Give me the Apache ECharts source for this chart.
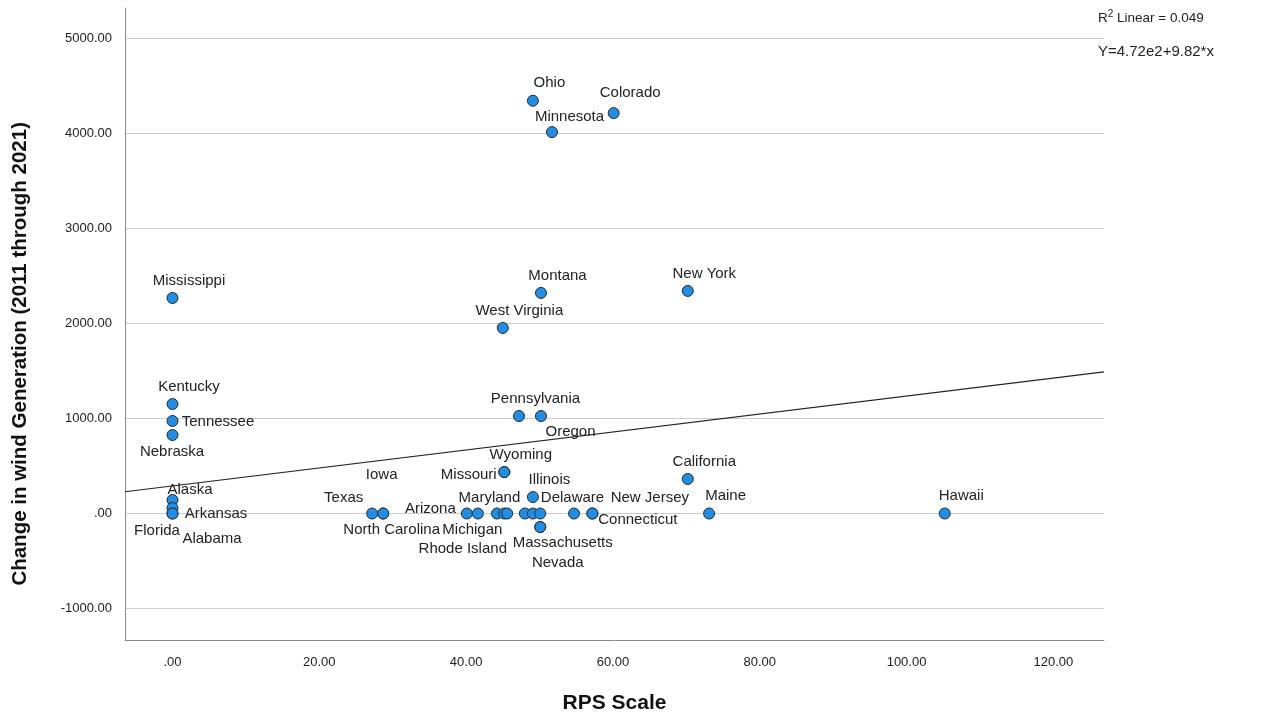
<!DOCTYPE html>
<html>
<head>
<meta charset="utf-8">
<script src="https://cdn.jsdelivr.net/npm/echarts@6/dist/echarts.min.js"></script>
<style>
  html, body { margin: 0; padding: 0; background: #fff; }
  #main { width: 1263px; height: 719px; }
</style>
</head>
<body>
<div id="main"></div>
<script>
// values
const states = [
	"Ohio", "Colorado", "Minnesota", "Mississippi", "Montana", "New York", "West Virginia",
	"Kentucky", "Tennessee", "Nebraska", "Pennsylvania", "Oregon", "Wyoming", "Missouri",
	"California", "Illinois", "Alaska", "Arkansas", "Florida", "Alabama", "Texas",
	"North Carolina", "Iowa", "Arizona", "Michigan", "Maryland", "Rhode Island", "", "", "", "",
	"Delaware", "New Jersey", "Connecticut", "Maine", "Hawaii", "Massachusetts", "Nevada"
]
const rpsScale = [
	49.1, 60.1, 51.7, 0, 50.2, 70.2, 45.0,
	0, 0, 0, 47.2, 50.2, 45.2, 45.2,
	70.2, 49.1, 0, 0, 0, 0, 27.2,
	28.7, 28.7, 40.1, 41.6, 44.2, 45.2, 45.6, 48.0, 49.1, 50.1,
	54.7, 57.2, 57.2, 73.1, 105.2, 50.1, 50.1
]
const windChange = [
	4340, 4210, 4010, 2266, 2319, 2340, 1951,
	1151, 973, 825, 1025, 1025, 436, 436,
	363, 173, 142, 58, 0, 0, 0,
	0, 0, 0, 0, 0, 0, 0, 0, 0, 0,
	0, 0, 0, 0, 0, -142, -142
]
const xTicks = [0, 20, 40, 60, 80, 100, 120]
const yTicks = [-1000, 0, 1000, 2000, 3000, 4000, 5000]
// fitted line as drawn in the picture
const fitIntercept = 290
const fitSlope = 9.45

const xMin = -6.47, xMax = 126.9
const yMin = -1330, yMax = 5315

const symSize = 11
// label placement, px from point centre (SPSS style)
const labelOffsets = {
	"Tennessee": [46, 1], "Nebraska": [0, 17], "Alaska": [18, -10], "Arkansas": [44, 6],
	"Florida": [-15, 18], "Alabama": [40, 26], "Texas": [-28, -15], "Iowa": [-1, -38],
	"North Carolina": [9, 17], "Arizona": [-36, -4], "Michigan": [-5, 17], "Maryland": [-7, -15],
	"Rhode Island": [-41, 36], "Missouri": [-35, 3], "Delaware": [-1, -15], "New Jersey": [58, -15],
	"Connecticut": [46, 7], "Massachusetts": [23, 16], "Nevada": [18, 36], "Oregon": [30, 16],
	"Colorado": [17, -20], "Minnesota": [18, -15]
}

const fmt = (v) => v === 0 ? ".00" : v.toFixed(2)

const points = states.map((name, i) => {
	const off = labelOffsets[name] || [17, -17]
	return {
		name: name,
		value: [rpsScale[i], windChange[i]],
		label: { position: [symSize / 2 + off[0], symSize / 2 + off[1]] }
	}
})

const fitData = [
	[xMin, fitIntercept + fitSlope * xMin],
	[xMax, fitIntercept + fitSlope * xMax]
]

const font = "'Liberation Sans', Arial, sans-serif"

var myChart = echarts.init(document.getElementById('main'))
var option = {
	backgroundColor: '#fff',
	animation: false,
	textStyle: { fontFamily: font },
	grid: { left: 125, right: 159, top: 8, bottom: 79 },
	xAxis: {
		type: 'value',
		min: xMin,
		max: xMax,
		name: 'RPS Scale',
		nameLocation: 'middle',
		nameGap: 53,
		nameTextStyle: { fontSize: 21, fontWeight: 'bold', color: '#111', fontFamily: font },
		axisLine: { show: true, onZero: false, lineStyle: { color: '#8a8a8a', width: 1 } },
		axisTick: { show: false, customValues: xTicks },
		splitLine: { show: false },
		axisLabel: {
			customValues: xTicks,
			formatter: fmt,
			margin: 16,
			fontSize: 13,
			color: '#222',
			fontFamily: font
		}
	},
	yAxis: {
		type: 'value',
		min: yMin,
		max: yMax,
		axisLine: { show: true, onZero: false, lineStyle: { color: '#8a8a8a', width: 1 } },
		axisTick: { show: false, customValues: yTicks },
		splitLine: { show: true, lineStyle: { color: '#cdcdcd', width: 1.2 } },
		axisLabel: {
			customValues: yTicks,
			formatter: fmt,
			margin: 13,
			fontSize: 13,
			color: '#222',
			fontFamily: font
		}
	},
	graphic: [
		{
			type: 'text',
			left: 10,
			top: 122,
			rotation: Math.PI / 2,
			style: {
				text: 'Change in wind Generation (2011 through 2021)',
				fontSize: 20.5,
				fontWeight: 'bold',
				fill: '#111',
				fontFamily: font
			}
		},
		{
			type: 'text',
			left: 1098,
			top: 9,
			style: {
				text: '{r|R}{s|2}{r| Linear = 0.049}',
				rich: {
					r: { fontSize: 13.5, fill: '#222', fontFamily: font, verticalAlign: 'bottom' },
					s: { fontSize: 10, fill: '#222', fontFamily: font, verticalAlign: 'top', padding: [0, 0, 6, 0] }
				}
			}
		},
		{
			type: 'text',
			left: 1098,
			top: 44,
			style: { text: 'Y=4.72e2+9.82*x', fontSize: 15, fill: '#222', fontFamily: font }
		}
	],
	series: [
		{
			type: 'line',
			data: fitData,
			symbol: 'none',
			z: 1,
			lineStyle: { color: '#222', width: 1.2 },
			silent: true
		},
		{
			type: 'scatter',
			data: points,
			z: 3,
			symbolSize: symSize,
			itemStyle: { color: '#1f8ee6', borderColor: '#2a2a2a', borderWidth: 1, opacity: 1 },
			label: {
				show: true,
				formatter: '{b}',
				align: 'center',
				verticalAlign: 'middle',
				fontSize: 15,
				color: '#222',
				fontFamily: font
			},
			labelLayout: { hideOverlap: false }
		}
	]
}
myChart.setOption(option)
</script>
</body>
</html>
